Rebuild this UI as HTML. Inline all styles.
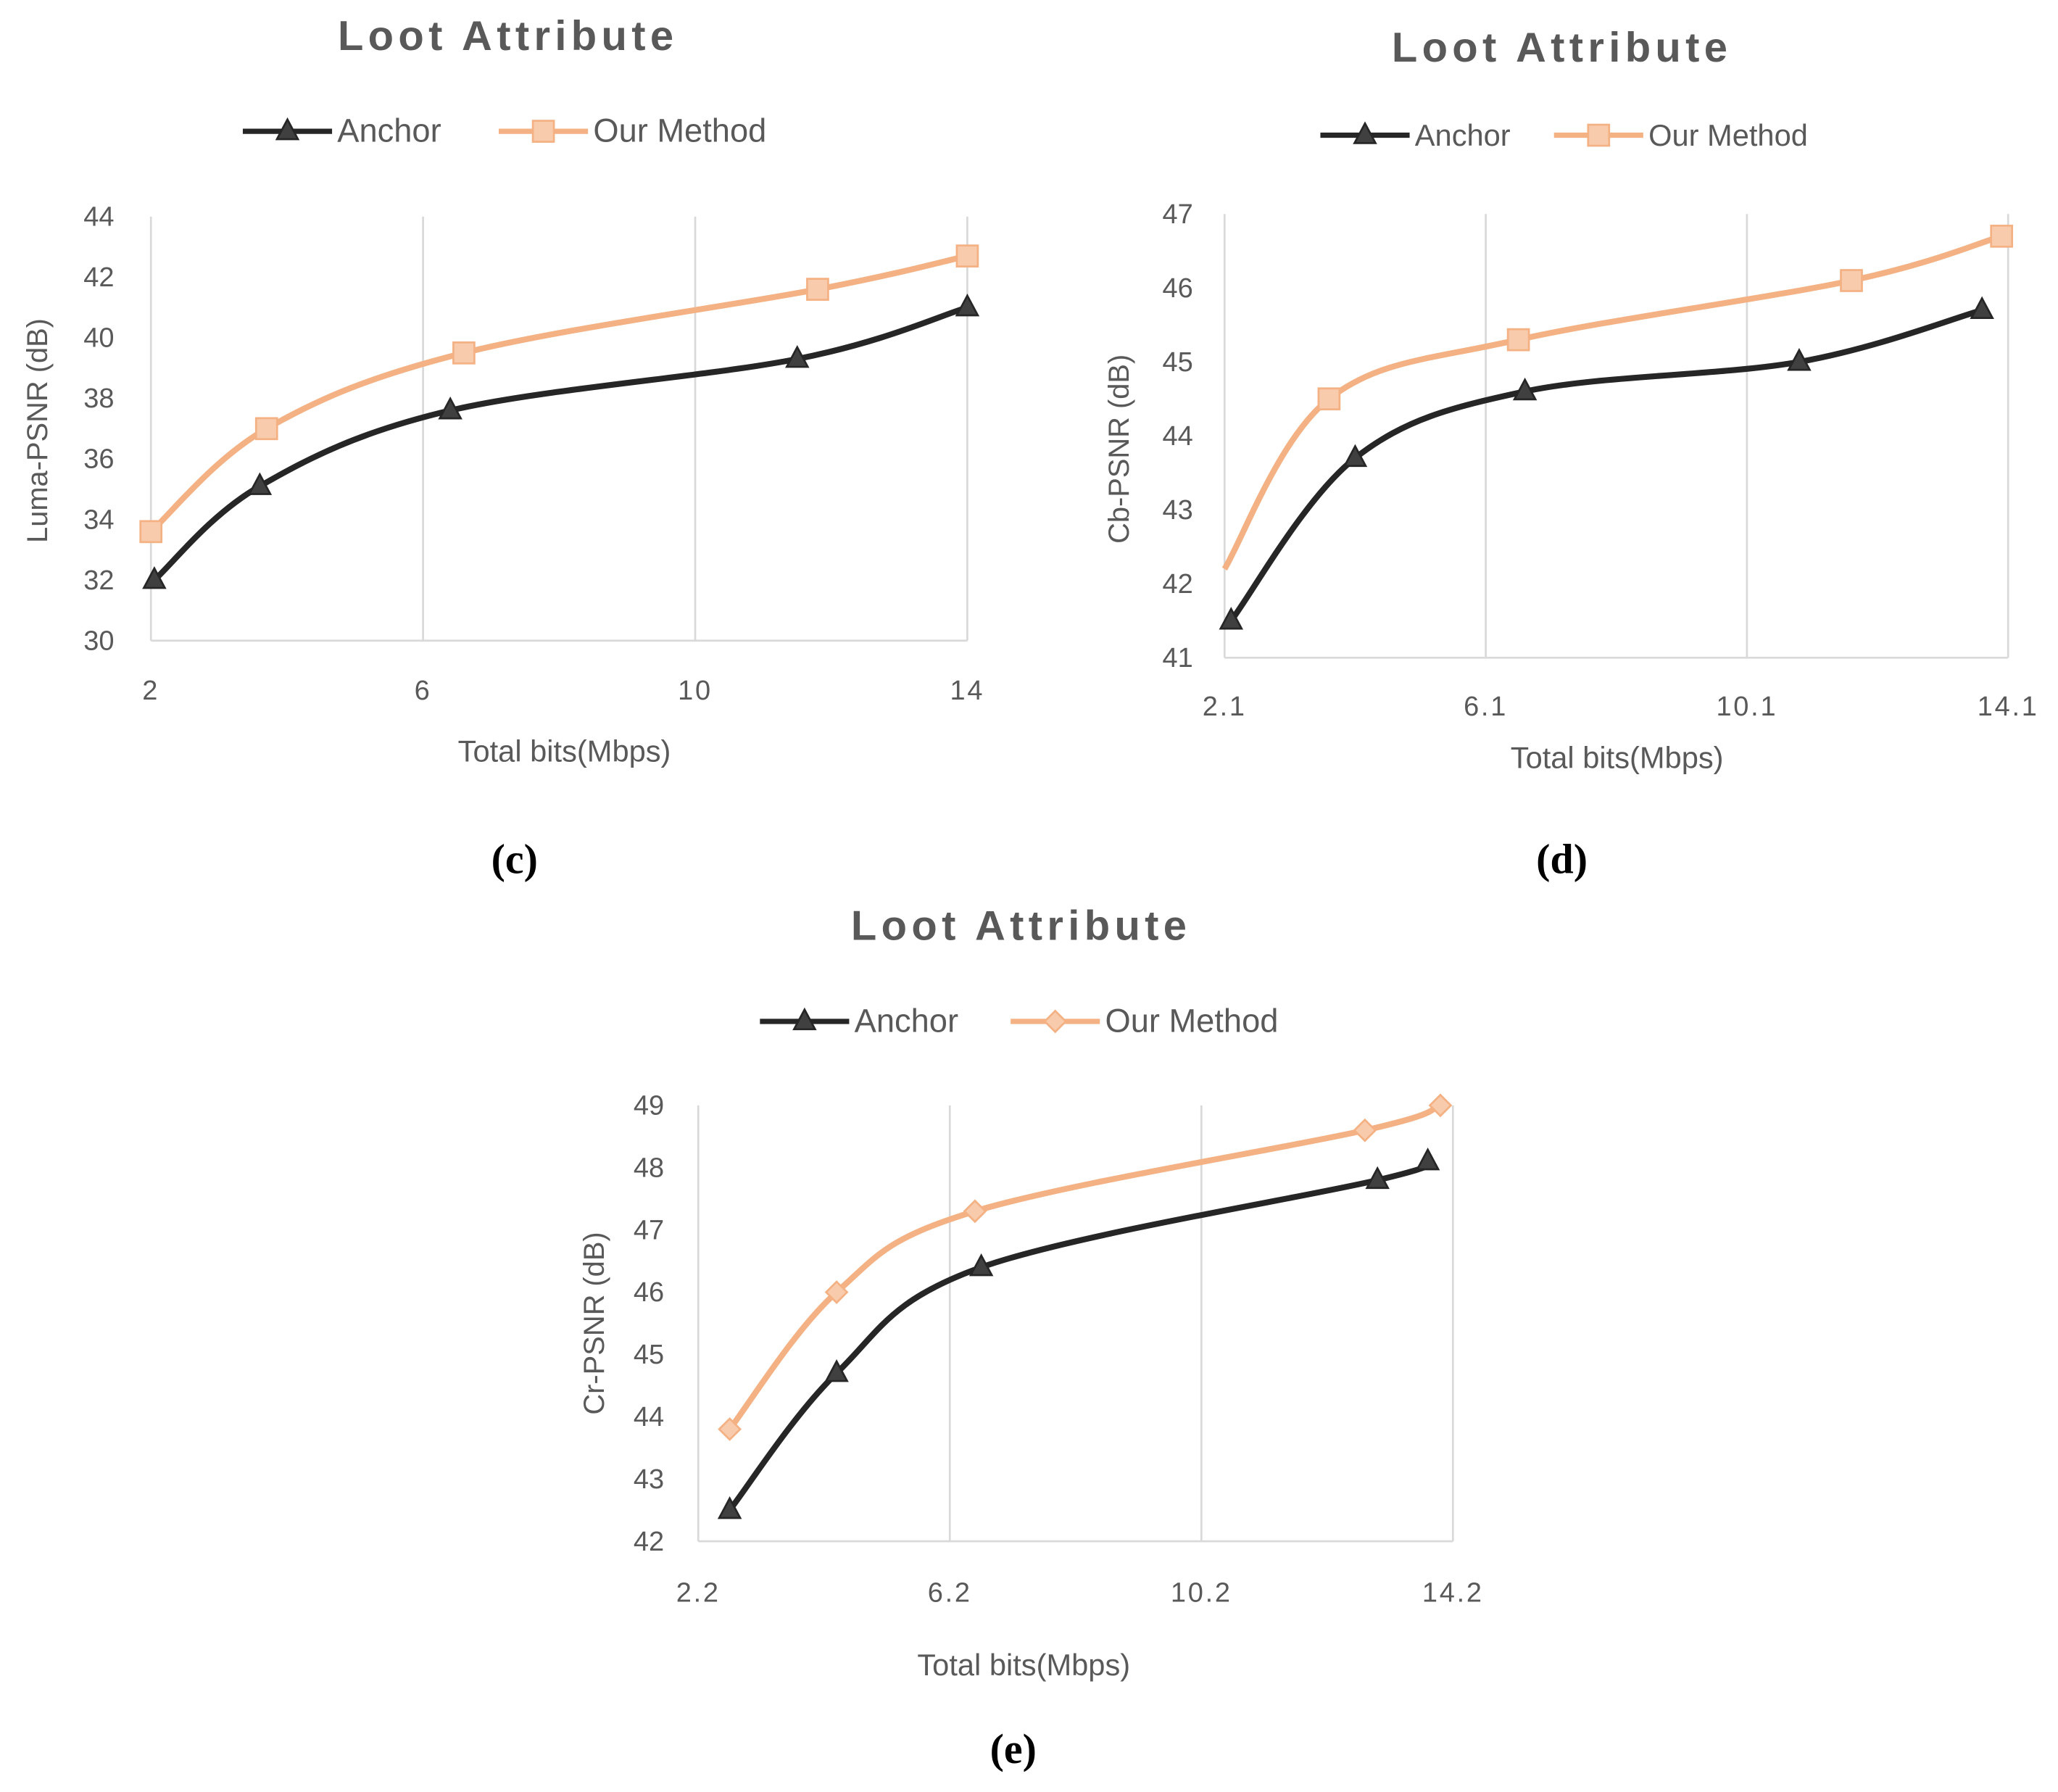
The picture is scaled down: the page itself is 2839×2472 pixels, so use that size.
<!DOCTYPE html>
<html><head><meta charset="utf-8"><style>
html,body{margin:0;padding:0;background:#fff}
svg{display:block}
text{font-family:"Liberation Sans","DejaVu Sans",sans-serif;fill:#595959}
</style></head><body>
<svg id="fig" width="2839" height="2472" viewBox="0 0 1568 1365" preserveAspectRatio="none" xmlns="http://www.w3.org/2000/svg"></svg>
<script>
// Chart c data
const cAnchorX=[2.05,3.6,6.4,11.5,14];
const cAnchorY=[32,35.1,37.6,39.3,41];
const cOurX=[2,3.7,6.6,11.8,14];
const cOurY=[33.6,37,39.5,41.6,42.7];
const cXTicks=[2,6,10,14];
const cYTicks=[30,32,34,36,38,40,42,44];
// Chart d data
const dAnchorX=[2.2,4.1,6.7,10.9,13.7];
const dAnchorY=[41.5,43.7,44.6,45,45.7];
const dOurX=[2.1,3.7,6.6,11.7,14];
const dOurY=[42.2,44.5,45.3,46.1,46.7];
const dXTicks=[2.1,6.1,10.1,14.1];
const dYTicks=[41,42,43,44,45,46,47];
// Chart e data
const eAnchorX=[2.7,4.4,6.7,13.0,13.8];
const eAnchorY=[42.5,44.7,46.4,47.8,48.1];
const eOurX=[2.7,4.4,6.6,12.8,14.0];
const eOurY=[43.8,46,47.3,48.6,49];
const eXTicks=[2.2,6.2,10.2,14.2];
const eYTicks=[42,43,44,45,46,47,48,49];

const NS="http://www.w3.org/2000/svg";
const svg=document.getElementById('fig');
function mk(tag,attrs,parent,txt){const e=document.createElementNS(NS,tag);for(const k in attrs)e.setAttribute(k,attrs[k]);if(txt!==undefined)e.textContent=txt;(parent||svg).appendChild(e);return e;}
function smooth(pts){let d=`M${pts[0][0]},${pts[0][1]}`;for(let i=0;i<pts.length-1;i++){const p0=pts[i-1]||pts[i],p1=pts[i],p2=pts[i+1],p3=pts[i+2]||p2;const t=0.17;const c1=[p1[0]+(p2[0]-p0[0])*t,p1[1]+(p2[1]-p0[1])*t];const c2=[p2[0]-(p3[0]-p1[0])*t,p2[1]-(p3[1]-p1[1])*t];d+=` C${c1[0]},${c1[1]} ${c2[0]},${c2[1]} ${p2[0]},${p2[1]}`;}return d;}
function marker(g,type,x,y,fill,stroke){
  if(type==='tri') return mk('polygon',{points:`${x},${y-9} ${x-8},${y+6} ${x+8},${y+6}`,fill:fill,stroke:stroke,'stroke-width':1.5},g);
  if(type==='sq') return mk('rect',{x:x-8,y:y-8,width:16,height:16,fill:fill,stroke:stroke,'stroke-width':1.5},g);
  return mk('polygon',{points:`${x},${y-8} ${x+8},${y} ${x},${y+8} ${x-8},${y}`,fill:fill,stroke:stroke,'stroke-width':1.5},g);
}
function chart(o){
  const g=mk('g',{});
  
  
  const sx=v=>o.x0+(v-o.xmin)/(o.xmax-o.xmin)*(o.x1-o.x0);
  const sy=v=>o.y0-(v-o.ymin)/(o.ymax-o.ymin)*(o.y0-o.y1);
  const t=mk('text',{x:o.tx,y:o.ty,'font-size':32,'font-weight':'bold','text-anchor':'middle','letter-spacing':3.5},g,'Loot Attribute');
  
  
  const lg=mk('g',{},g);
  
  
  mk('line',{x1:o.lx,y1:o.ly,x2:o.lx+68,y2:o.ly,stroke:'#262626','stroke-width':4},lg);
  marker(lg,'tri',o.lx+34,o.ly,'#404040','#262626');
  mk('text',{x:o.lx+72,y:o.ly+8,'font-size':o.lfs},lg,'Anchor');
  mk('line',{x1:o.lx2,y1:o.ly,x2:o.lx2+68,y2:o.ly,stroke:'#f4b183','stroke-width':4},lg);
  marker(lg,o.ourM,o.lx2+34,o.ly,'#f8cbad','#f4b183');
  mk('text',{x:o.lx2+72,y:o.ly+8,'font-size':o.lfs},lg,'Our Method');
  o.xt.forEach(v=>{const l=mk('line',{x1:sx(v),y1:o.y1,x2:sx(v),y2:o.y0,stroke:'#d9d9d9','stroke-width':1.5},g);
    
    const tx=mk('text',{x:sx(v),y:o.y0+o.xtOff,'font-size':21,'text-anchor':'middle','letter-spacing':1.5},g,String(v));
    });
  mk('line',{x1:o.x0,y1:o.y0,x2:o.x1,y2:o.y0,stroke:'#d9d9d9','stroke-width':1.5},g);
  o.yt.forEach(v=>{const tx=mk('text',{x:o.x0-o.ytOff,y:sy(v)+7,'font-size':21,'text-anchor':'end'},g,String(v));
    });
  const xl=mk('text',{x:o.xlx,y:o.xly,'font-size':23,'text-anchor':'middle'},g,'Total bits(Mbps)');
  
  const yl=mk('text',{x:0,y:0,'font-size':22,'text-anchor':'middle',transform:`translate(${o.ylx},${o.yly}) rotate(-90)`},g,o.ylab);
  
  [[o.ax,o.ay,'#262626','tri','#404040','#262626','series-anchor'],[o.ox,o.oy,'#f4b183',o.ourM,'#f8cbad','#f4b183','series-our-method']].forEach(s=>{
    const pts=s[0].map((v,i)=>[sx(v),sy(s[1][i])]);
    const sg=mk('g',{},g);
    
    mk('path',{d:smooth(pts),fill:'none',stroke:s[2],'stroke-width':4.5},sg);
    pts.forEach((p,i)=>{if(o.skipFirstOur&&s[6]==='series-our-method'&&i===0)return;
      const m=marker(sg,s[3],p[0],p[1],s[4],s[5]);});
  });
  const lab=mk('text',{x:o.capx,y:o.capy,'font-size':32,'font-weight':'bold','text-anchor':'middle',style:'font-family:"Liberation Serif",serif;fill:#000'},g,o.cap);
  
}
chart({name:'chart-c',xmin:2,xmax:14,ymin:30,ymax:44,x0:115,x1:737,y0:488,y1:165,ax:cAnchorX,ay:cAnchorY,ox:cOurX,oy:cOurY,xt:cXTicks,yt:cYTicks,
  tx:387,ty:38,lx:185,lx2:380,ly:100,lfs:25,ourM:'sq',xtOff:45,ytOff:28,xlx:430,xly:580,ylx:36,yly:328,ylab:'Luma-PSNR (dB)',capx:392,capy:665,cap:'(c)'});
chart({name:'chart-d',xmin:2.1,xmax:14.1,ymin:41,ymax:47,x0:933,x1:1530,y0:501,y1:163,ax:dAnchorX,ay:dAnchorY,ox:dOurX,oy:dOurY,xt:dXTicks,yt:dYTicks,skipFirstOur:true,
  tx:1190,ty:47,lx:1006,lx2:1184,ly:103,lfs:23,ourM:'sq',xtOff:44,ytOff:24,xlx:1232,xly:585,ylx:860,yly:342,ylab:'Cb-PSNR (dB)',capx:1190,capy:665,cap:'(d)'});
chart({name:'chart-e',xmin:2.2,xmax:14.2,ymin:42,ymax:49,x0:532,x1:1107,y0:1174,y1:842,ax:eAnchorX,ay:eAnchorY,ox:eOurX,oy:eOurY,xt:eXTicks,yt:eYTicks,
  tx:778,ty:716,lx:579,lx2:770,ly:778,lfs:25,ourM:'dia',xtOff:46,ytOff:26,xlx:780,xly:1276,ylx:460,yly:1008,ylab:'Cr-PSNR (dB)',capx:772,capy:1343,cap:'(e)'});
</script>
</body></html>
